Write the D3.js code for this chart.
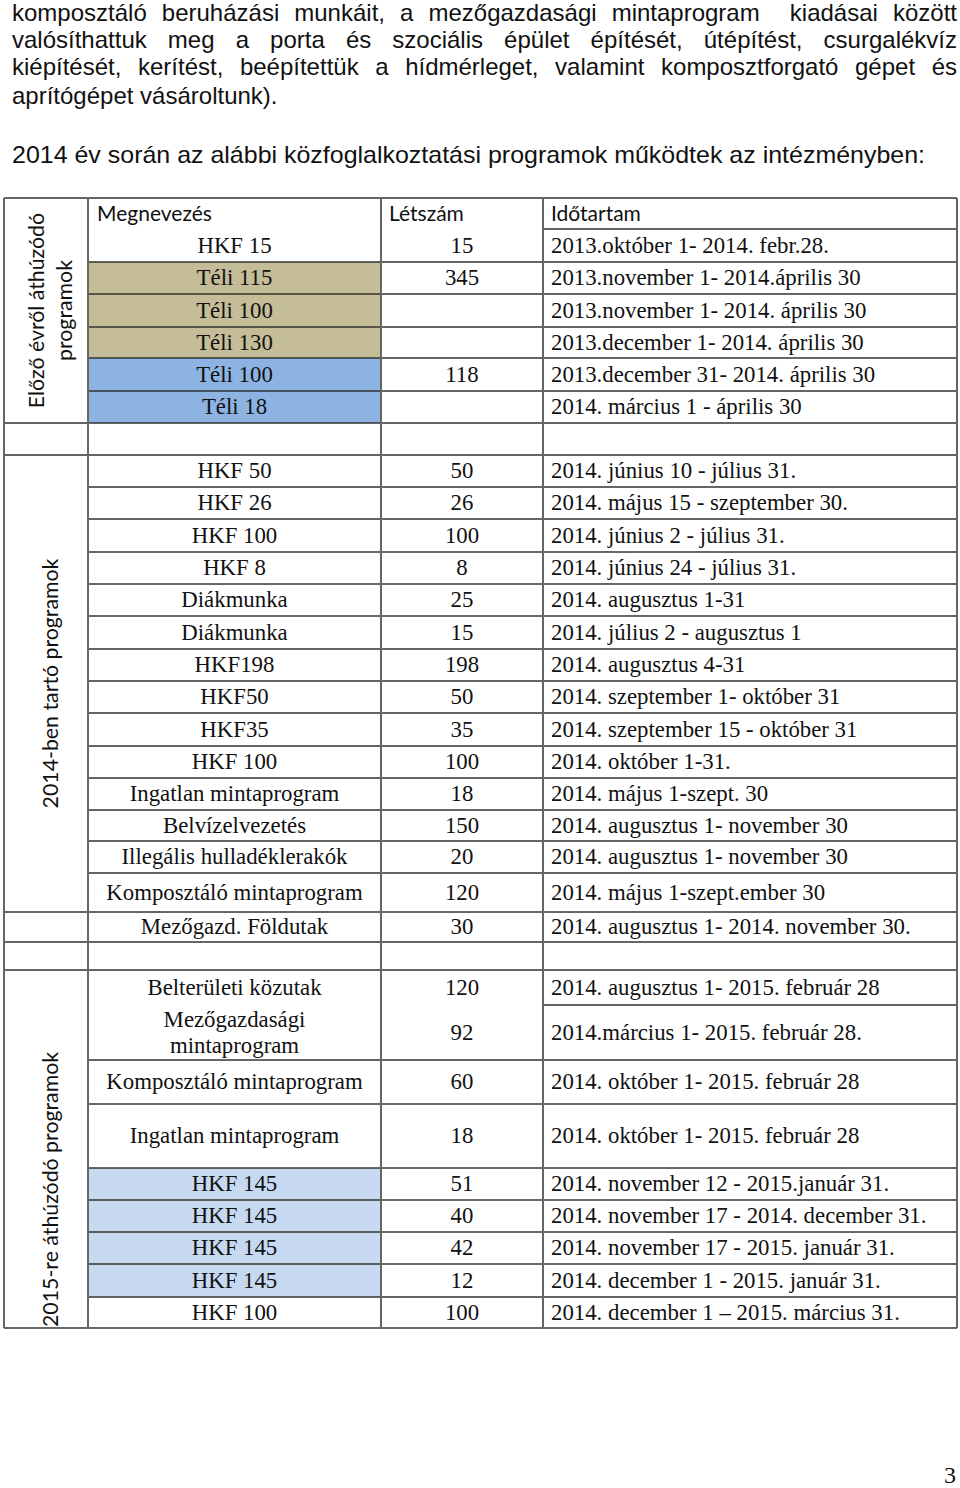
<!DOCTYPE html>
<html>
<head>
<meta charset="utf-8">
<script src="https://cdn.jsdelivr.net/npm/d3@7"></script>
<style>
  body { margin: 0; background: #fff; }
</style>
</head>
<body>
<div id="page"></div>
<script>
// Text above the table
const paraLines = [
    "komposztáló beruházási munkáit, a mezőgazdasági mintaprogram  kiadásai között",
    "valósíthattuk meg a porta és szociális épület építését, útépítést, csurgalékvíz",
    "kiépítését, kerítést, beépítettük a hídmérleget, valamint komposztforgató gépet és",
    "aprítógépet vásároltunk)."
];
const introLine = "2014 év során az alábbi közfoglalkoztatási programok működtek az intézményben:";

// Table headers and section labels
const headers = ["Megnevezés", "Létszám", "Időtartam"];
const sectionLabels = [
    ["Előző évről áthúzódó", "programok"],
    ["2014-ben tartó programok"],
    ["2015-re áthúzódó programok"]
];

// Section 1: carried over from previous year
const names1 = ["HKF 15", "Téli 115", "Téli 100", "Téli 130", "Téli 100", "Téli 18"];
const counts1 = ["15", "345", "", "", "118", ""];
const periods1 = [
    "2013.október 1- 2014. febr.28.",
    "2013.november 1- 2014.április 30",
    "2013.november 1- 2014. április 30",
    "2013.december 1- 2014. április 30",
    "2013.december 31- 2014. április 30",
    "2014. március 1 - április 30"
];
const fills1 = ["", "tan", "tan", "tan", "blue", "blue"];

// Section 2: programs running in 2014
const names2 = ["HKF 50", "HKF 26", "HKF 100", "HKF 8", "Diákmunka", "Diákmunka", "HKF198", "HKF50",
    "HKF35", "HKF 100", "Ingatlan mintaprogram", "Belvízelvezetés", "Illegális hulladéklerakók",
    "Komposztáló mintaprogram"];
const counts2 = ["50", "26", "100", "8", "25", "15", "198", "50", "35", "100", "18", "150", "20", "120"];
const periods2 = [
    "2014. június 10 - július 31.",
    "2014. május 15 - szeptember 30.",
    "2014. június 2 - július 31.",
    "2014. június 24 - július 31.",
    "2014. augusztus 1-31",
    "2014. július 2 - augusztus 1",
    "2014. augusztus 4-31",
    "2014. szeptember 1- október 31",
    "2014. szeptember 15 - október 31",
    "2014. október 1-31.",
    "2014. május 1-szept. 30",
    "2014. augusztus 1- november 30",
    "2014. augusztus 1- november 30",
    "2014. május 1-szept.ember 30"
];

// Standalone row after section 2
const extraName = "Mezőgazd. Földutak";
const extraCount = "30";
const extraPeriod = "2014. augusztus 1- 2014. november 30.";

// Section 3: carried over into 2015
const names3 = ["Belterületi közutak", "Mezőgazdasági\nmintaprogram", "Komposztáló mintaprogram",
    "Ingatlan mintaprogram", "HKF 145", "HKF 145", "HKF 145", "HKF 145", "HKF 100"];
const counts3 = ["120", "92", "60", "18", "51", "40", "42", "12", "100"];
const periods3 = [
    "2014. augusztus 1- 2015. február 28",
    "2014.március 1- 2015. február 28.",
    "2014. október 1- 2015. február 28",
    "2014. október 1- 2015. február 28",
    "2014. november 12 - 2015.január 31.",
    "2014. november 17 - 2014. december 31.",
    "2014. november 17 - 2015. január 31.",
    "2014. december 1 - 2015. január 31.",
    "2014. december 1 – 2015. március 31."
];
const fills3 = ["", "", "", "", "light", "light", "light", "light", ""];

// Layout (pixel sizes, not data)
const W = 960, H = 1488;
const colEdges = [4, 88, 381, 543, 957];
const tableTop = 198;
const headerH = 31;
const heights1 = [33, 32, 33, 31, 33, 32];
const heights2 = [32, 32, 33, 32, 32, 33, 32, 32, 33, 32, 32, 31, 32, 39];
const heights3 = [35, 55, 44, 64, 32, 32, 32, 33, 31];
const fillColor = { tan: "#c4bd97", blue: "#8db3e2", light: "#c6d9f1" };

const serif = "'Liberation Serif', 'Times New Roman', serif";
const sans = "'Liberation Sans', Arial, sans-serif";
const calibri = "Lato, 'Open Sans', sans-serif";
const cellSize = 22.8;
const paraSize = 24;

const svg = d3.select("#page")
              .append("svg")
              .attr("width", W)
              .attr("height", H)
              .style("display", "block");

svg.append("rect").attr("width", W).attr("height", H).attr("fill", "#fff");

// paragraph text, first three lines justified by word spacing
const paraBase = [21, 48, 75, 104];
paraLines.forEach((t, i) => {
    const el = svg.append("text")
                  .attr("x", 12)
                  .attr("y", paraBase[i])
                  .attr("font-family", sans)
                  .attr("font-size", paraSize)
                  .attr("fill", "#111")
                  .style("white-space", "pre")
                  .text(t);
    if (i < 3) {
        const natural = el.node().getComputedTextLength();
        const spaces = (t.match(/ /g) || []).length;
        el.attr("word-spacing", Math.max(0, (945 - natural) / spaces));
        if (natural > 945) el.attr("textLength", 945).attr("lengthAdjust", "spacingAndGlyphs");
    }
});
svg.append("text")
   .attr("x", 12)
   .attr("y", 163)
   .attr("font-family", sans)
   .attr("font-size", paraSize)
   .attr("fill", "#111")
   .attr("textLength", 913)
   .attr("lengthAdjust", "spacingAndGlyphs")
   .text(introLine);

// build table rows
const rows = [];
rows.push({ type: "header", h: headerH, sec: 0 });
names1.forEach((n, i) => rows.push({ name: n, count: counts1[i], period: periods1[i], fill: fills1[i], h: heights1[i], sec: 0 }));
rows.push({ type: "spacer", h: 32, sec: -1 });
names2.forEach((n, i) => rows.push({ name: n, count: counts2[i], period: periods2[i], fill: "", h: heights2[i], sec: 1 }));
rows.push({ name: extraName, count: extraCount, period: extraPeriod, fill: "", h: 30, sec: -2 });
rows.push({ type: "spacer", h: 28, sec: -3 });
names3.forEach((n, i) => rows.push({ name: n, count: counts3[i], period: periods3[i], fill: fills3[i], h: heights3[i], sec: 2 }));

let acc = tableTop;
rows.forEach(r => { r.y = acc; acc += r.h; });
const tableBottom = acc;

// the two-line row under "Belterületi közutak" only has a rule in the last column
const partialRule = rows.find(r => r.name === names3[1]);

const nameX = (colEdges[1] + colEdges[2]) / 2;
const countX = (colEdges[2] + colEdges[3]) / 2;
const periodX = colEdges[3] + 8;

// cell fills
svg.selectAll("rect.fill")
   .data(rows.filter(r => r.fill))
   .enter()
   .append("rect")
   .attr("class", "fill")
   .attr("x", colEdges[1])
   .attr("y", d => d.y)
   .attr("width", colEdges[2] - colEdges[1])
   .attr("height", d => d.h)
   .attr("fill", d => fillColor[d.fill]);

// horizontal lines
rows.forEach((r, i) => {
    if (i === 0) return;
    const prev = rows[i - 1];
    let x0 = colEdges[1];
    if (prev.sec !== r.sec) x0 = colEdges[0];
    if (prev.type === "header" || r === partialRule) x0 = colEdges[3];
    svg.append("line")
       .attr("x1", x0).attr("x2", colEdges[4])
       .attr("y1", r.y).attr("y2", r.y)
       .attr("stroke", "#333")
       .attr("stroke-width", 1.6);
});
// top and bottom
[tableTop, tableBottom].forEach(y => {
    svg.append("line")
       .attr("x1", colEdges[0]).attr("x2", colEdges[4])
       .attr("y1", y).attr("y2", y)
       .attr("stroke", "#333")
       .attr("stroke-width", 1.6);
});
// vertical lines
colEdges.forEach(x => {
    svg.append("line")
       .attr("x1", x).attr("x2", x)
       .attr("y1", tableTop).attr("y2", tableBottom)
       .attr("stroke", "#666")
       .attr("stroke-width", 2);
});

// header text
const hdr = rows[0];
const hdrX = [colEdges[1] + 9, colEdges[2] + 8, colEdges[3] + 8];
headers.forEach((t, i) => {
    svg.append("text")
       .attr("x", hdrX[i])
       .attr("y", hdr.y + hdr.h / 2 + 7)
       .attr("font-family", calibri)
       .attr("font-size", 21)
       .attr("fill", "#111")
       .text(t);
});

// body text
const dataRows = rows.filter(r => r.name);
dataRows.forEach(r => {
    const lines = r.name.split("\n");
    const cy = r.y + r.h / 2;
    lines.forEach((ln, j) => {
        svg.append("text")
           .attr("x", nameX)
           .attr("y", cy + (j - (lines.length - 1) / 2) * 26 + 7)
           .attr("text-anchor", "middle")
           .attr("font-family", serif)
           .attr("font-size", cellSize)
           .attr("fill", "#111")
           .text(ln);
    });
    svg.append("text")
       .attr("x", countX)
       .attr("y", cy + 7)
       .attr("text-anchor", "middle")
       .attr("font-family", serif)
       .attr("font-size", cellSize)
       .attr("fill", "#111")
       .text(r.count);
    svg.append("text")
       .attr("x", periodX)
       .attr("y", cy + 7)
       .attr("font-family", serif)
       .attr("font-size", cellSize)
       .attr("fill", "#111")
       .text(r.period);
});

// rotated section labels
const secSpan = s => {
    const rs = rows.filter(r => r.sec === s);
    return [rs[0].y, rs[rs.length - 1].y + rs[rs.length - 1].h];
};
const labelSize = 21.3;
// section 1: two lines centred
{
    const [y0, y1] = secSpan(0);
    const cy = (y0 + y1) / 2;
    sectionLabels[0].forEach((t, j) => {
        svg.append("text")
           .attr("transform", `translate(${44 + j * 28},${cy}) rotate(-90)`)
           .attr("text-anchor", "middle")
           .attr("font-family", calibri)
           .attr("font-size", labelSize)
           .attr("fill", "#111")
           .text(t);
    });
}
// section 2: centred
{
    const [y0, y1] = secSpan(1);
    svg.append("text")
       .attr("transform", `translate(58,${(y0 + y1) / 2}) rotate(-90)`)
       .attr("text-anchor", "middle")
       .attr("font-family", calibri)
       .attr("font-size", labelSize)
       .attr("fill", "#111")
       .text(sectionLabels[1][0]);
}
// section 3: anchored at the bottom
{
    const [y0, y1] = secSpan(2);
    svg.append("text")
       .attr("transform", `translate(58,${y1 - 1}) rotate(-90)`)
       .attr("text-anchor", "start")
       .attr("font-family", calibri)
       .attr("font-size", labelSize)
       .attr("fill", "#111")
       .text(sectionLabels[2][0]);
}

// page number
svg.append("text")
   .attr("x", 950)
   .attr("y", 1483)
   .attr("text-anchor", "middle")
   .attr("font-family", serif)
   .attr("font-size", 24)
   .attr("fill", "#111")
   .text("3");
</script>
</body>
</html>
